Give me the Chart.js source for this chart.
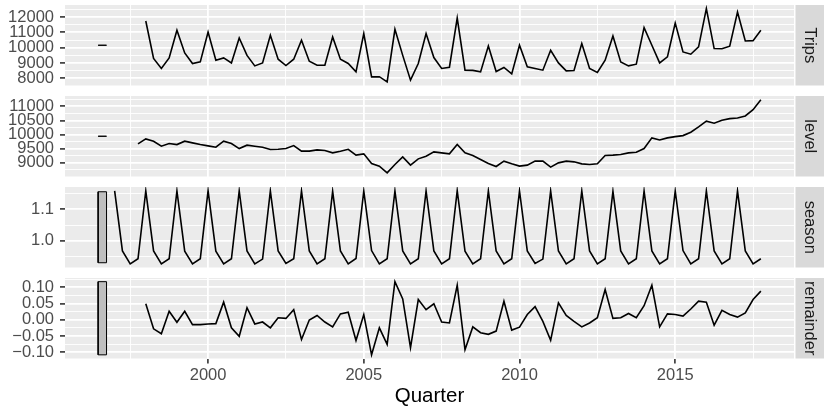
<!DOCTYPE html>
<html lang="en">
<head>
<meta charset="UTF-8">
<title>Holiday trips: ETS components</title>
<script src="https://cdn.jsdelivr.net/npm/chart.js"></script>
<style>
  body { margin: 0; background: #fff; }
  #wrap { position: relative; width: 824px; height: 407px; overflow: hidden; }
  canvas { position: absolute; left: 0; }
</style>
</head>
<body>
<div id="wrap">
  <canvas id="c0" width="824" height="91" style="top:0px"></canvas>
  <canvas id="c1" width="824" height="91" style="top:91px"></canvas>
  <canvas id="c2" width="824" height="91" style="top:182px"></canvas>
  <canvas id="c3" width="824" height="134" style="top:273px"></canvas>
</div>
<script>
// quarterly values, one row per year
const trips = [ // 1998 Q1 .. 2017 Q4
  11740, 9296, 8646, 9330,
  11135, 9660, 8970, 9075,
  11025, 9186, 9335, 9010,
  10635, 9500, 8815, 9010,
  10810, 9250, 8840, 9250,
  10485, 9120, 8860, 8860,
  10700, 9250, 8970, 8425,
  10920, 8100, 8110, 7775,
  11200, 9500, 7885, 8970,
  10920, 9360, 8646, 8730,
  11935, 8535, 8520, 8425,
  10115, 8450, 8710, 8295,
  10160, 8750, 8645, 8535,
  9835, 9010, 8490, 8510,
  10270, 8645, 8385, 9185,
  10765, 9075, 8815, 8925,
  11310, 10160, 9010, 9400,
  11610, 9725, 9575, 10050,
  12545, 9945, 9935, 10095,
  12325, 10440, 10460, 11135
];
const level = [ // 1997 Q4 .. 2017 Q4
  9670,
  9847, 9765, 9589, 9681,
  9646, 9765, 9706, 9646,
  9600, 9554, 9765, 9681,
  9505, 9624, 9589, 9554,
  9470, 9480, 9505, 9612,
  9413, 9413, 9459, 9436,
  9353, 9413, 9480, 9272,
  9318, 8975, 8884, 8647,
  8940, 9212, 8919, 9141,
  9236, 9388, 9353, 9318,
  9646, 9353, 9258, 9117,
  8975, 8870, 9060, 8965,
  8884, 8919, 9060, 9060,
  8849, 9000, 9060, 9036,
  8965, 8940, 8965, 9258,
  9272, 9294, 9353, 9376,
  9505, 9882, 9811, 9882,
  9928, 9963, 10083, 10270,
  10471, 10400, 10506, 10563,
  10587, 10658, 10880, 11233
];
const season = [ // 1997 Q1 .. 2017 Q4
  1.158, 0.968, 0.927, 0.943,
  1.158, 0.968, 0.927, 0.943,
  1.158, 0.967, 0.927, 0.943,
  1.159, 0.967, 0.927, 0.943,
  1.158, 0.968, 0.927, 0.942,
  1.158, 0.968, 0.928, 0.943,
  1.158, 0.968, 0.927, 0.943,
  1.157, 0.968, 0.927, 0.944,
  1.158, 0.969, 0.927, 0.943,
  1.158, 0.968, 0.927, 0.943,
  1.158, 0.968, 0.927, 0.943,
  1.159, 0.967, 0.927, 0.943,
  1.158, 0.968, 0.927, 0.943,
  1.158, 0.968, 0.928, 0.942,
  1.158, 0.968, 0.927, 0.943,
  1.158, 0.968, 0.927, 0.943,
  1.157, 0.968, 0.927, 0.943,
  1.158, 0.968, 0.927, 0.943,
  1.158, 0.969, 0.927, 0.943,
  1.158, 0.968, 0.927, 0.943,
  1.158, 0.968, 0.927, 0.943
];
const remainder = [ // 1998 Q1 .. 2017 Q4
  0.049, -0.028, -0.043, 0.026,
  -0.008, 0.026, -0.015, -0.015,
  -0.013, -0.012, 0.054, -0.025,
  -0.051, 0.037, -0.013, -0.007,
  -0.025, 0.006, 0.004, 0.031,
  -0.061, -0.001, 0.013, -0.007,
  -0.022, 0.018, 0.023, -0.064,
  0.016, -0.108, -0.025, -0.076,
  0.117, 0.064, -0.086, 0.062,
  0.031, 0.049, -0.007, -0.010,
  0.106, -0.092, -0.022, -0.040,
  -0.045, -0.035, 0.057, -0.032,
  -0.023, 0.016, 0.040, -0.005,
  -0.063, 0.052, 0.013, -0.005,
  -0.022, -0.010, 0.006, 0.093,
  0.004, 0.006, 0.019, 0.006,
  0.043, 0.106, -0.022, 0.018,
  0.016, 0.011, 0.033, 0.057,
  0.054, -0.017, 0.029, 0.016,
  0.008, 0.021, 0.062, 0.088
];

const xMajor = [2000, 2005, 2010, 2015];
const xMinor = [1997.5, 2002.5, 2007.5, 2012.5, 2017.5];
const tripsMajor = [8000, 9000, 10000, 11000, 12000];
const tripsMinor = [7500, 8500, 9500, 10500, 11500, 12500];
const levelMajor = [9000, 9500, 10000, 10500, 11000];
const levelMinor = [8750, 9250, 9750, 10250, 10750, 11250];
const seasonMajor = [1.0, 1.1];
const seasonMinor = [0.95, 1.05, 1.15];
const remainderMajor = [-0.10, -0.05, 0, 0.05, 0.10];
const remainderMinor = [-0.125, -0.075, -0.025, 0.025, 0.075, 0.125];

// scale bars sit just left of the series
const barX = [1996.47, 1996.74];

const FONT = '"Liberation Sans", Arial, sans-serif';
const minus = v => (v < 0 ? '\u2212' : '') + Math.abs(v).toFixed(2);

const panels = [
  { id: 'c0', label: 'Trips', values: trips, start: 1998, major: tripsMajor, minor: tripsMinor, fmt: v => String(v) },
  { id: 'c1', label: 'level', values: level, start: 1997.75, major: levelMajor, minor: levelMinor, fmt: v => String(v) },
  { id: 'c2', label: 'season', values: season, start: 1997, major: seasonMajor, minor: seasonMinor, fmt: v => v.toFixed(1) },
  { id: 'c3', label: 'remainder', values: remainder, start: 1998, major: remainderMajor, minor: remainderMinor, fmt: minus }
];

function expand(lo, hi) {
  const d = (hi - lo) * 0.05;
  return [lo - d, hi + d];
}
const toPoints = (vals, start) => vals.map((v, i) => ({ x: start + i / 4, y: v }));

// every bar is as tall as the narrowest panel's range
const barHeight = Math.min(...panels.map(p => Math.max(...p.values) - Math.min(...p.values)));
const lastX = Math.max(...panels.map(p => p.start + (p.values.length - 1) / 4));
const [xMin, xMax] = expand(barX[0], lastX);

const panelBg = {
  id: 'panelBg',
  beforeDraw(chart) {
    const { ctx, chartArea: a } = chart;
    ctx.save();
    ctx.fillStyle = '#ebebeb';
    ctx.fillRect(a.left, a.top, a.right - a.left, a.bottom - a.top);
    ctx.restore();
  }
};

const strip = {
  id: 'strip',
  afterDraw(chart, args, opts) {
    const { ctx, chartArea: a } = chart;
    ctx.save();
    ctx.fillStyle = '#d9d9d9';
    ctx.fillRect(a.right + 1.5, a.top, 40, a.bottom - a.top);
    ctx.translate(810, (a.top + a.bottom) / 2);
    ctx.rotate(Math.PI / 2);
    ctx.fillStyle = '#1a1a1a';
    ctx.font = '16.5px ' + FONT;
    ctx.textAlign = 'center';
    ctx.textBaseline = 'middle';
    ctx.fillText(opts.label, 0, 0);
    ctx.restore();
  }
};

// drop the label overhang Chart.js reserves so the panel fills its box
function noOverhang(s) {
  s.paddingTop = 0; s.paddingBottom = 0; s.paddingLeft = 0; s.paddingRight = 0;
}

panels.forEach((p, k) => {
  const bottom = k === panels.length - 1;
  const lo = Math.min(...p.values), hi = Math.max(...p.values);
  const mid = (lo + hi) / 2;
  const b0 = mid - barHeight / 2, b1 = mid + barHeight / 2;
  const [yMin, yMax] = expand(Math.min(lo, b0), Math.max(hi, b1));
  const isMajorY = c => c.tick && p.major.includes(c.tick.value);
  const isMajorX = c => c.tick && xMajor.includes(c.tick.value);

  new Chart(document.getElementById(p.id), {
    type: 'line',
    data: {
      datasets: [
        {
          data: [{ x: barX[0], y: b0 }, { x: barX[1], y: b0 }, { x: barX[1], y: b1 }, { x: barX[0], y: b1 }, { x: barX[0], y: b0 }],
          borderColor: '#000', borderWidth: 1, backgroundColor: '#bfbfbf',
          fill: 'shape', pointRadius: 0, tension: 0
        },
        {
          data: toPoints(p.values, p.start),
          borderColor: '#000', borderWidth: 1.6, fill: false, pointRadius: 0, tension: 0
        }
      ]
    },
    options: {
      responsive: false,
      animation: false,
      events: [],
      layout: { padding: { top: 5, bottom: bottom ? 0 : 5.5, left: 0, right: 30 } },
      plugins: {
        legend: { display: false },
        tooltip: { enabled: false },
        strip: { label: p.label }
      },
      scales: {
        x: {
          type: 'linear', min: xMin, max: xMax, offset: false, bounds: 'data',
          afterBuildTicks: a => { a.ticks = [...xMinor, ...xMajor].sort((m, n) => m - n).map(v => ({ value: v })); },
          afterFit: s => { s.height = bottom ? 48.5 : 0; noOverhang(s); },
          border: { display: false },
          grid: {
            color: '#fff',
            lineWidth: c => isMajorX(c) ? 1.8 : 0.9,
            drawTicks: bottom, tickLength: 5, tickWidth: 1.6,
            tickColor: c => isMajorX(c) ? '#333' : 'rgba(0,0,0,0)'
          },
          ticks: {
            display: bottom, autoSkip: false, maxRotation: 0, padding: 2.4,
            color: '#4d4d4d', font: { family: FONT, size: 16.5 },
            callback: v => xMajor.includes(v) ? String(v) : ''
          },
          title: {
            display: bottom, text: 'Quarter', color: '#000', padding: 0,
            font: { family: FONT, size: 20.5, lineHeight: 1 }
          }
        },
        y: {
          min: yMin, max: yMax, bounds: 'data',
          afterBuildTicks: a => {
            a.ticks = [...p.minor, ...p.major].filter(v => v >= yMin && v <= yMax)
              .sort((m, n) => m - n).map(v => ({ value: v }));
          },
          afterFit: s => { s.width = 65; noOverhang(s); },
          border: { display: false },
          grid: {
            color: '#fff',
            lineWidth: c => isMajorY(c) ? 1.8 : 0.9,
            tickLength: 5, tickWidth: 1.6,
            tickColor: c => isMajorY(c) ? '#333' : 'rgba(0,0,0,0)'
          },
          ticks: {
            autoSkip: false, padding: 6,
            color: '#4d4d4d', font: { family: FONT, size: 16.5 },
            callback: v => p.major.includes(v) ? p.fmt(v) : ''
          }
        }
      }
    },
    plugins: [panelBg, strip]
  });
});
</script>
</body>
</html>
